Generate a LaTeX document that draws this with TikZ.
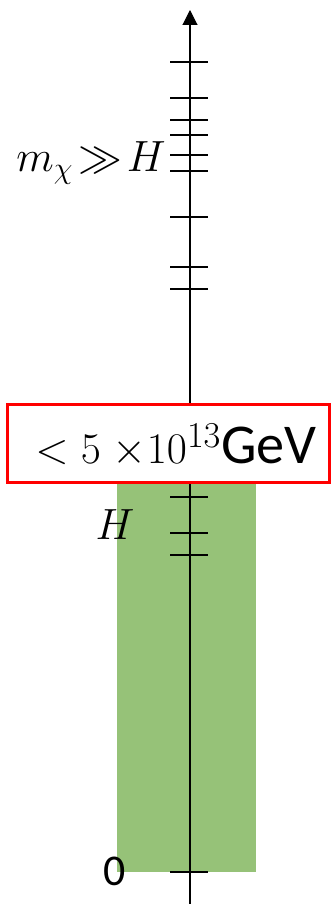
\documentclass[tikz,border=0pt]{standalone}
\usepackage{fontspec}
\setmainfont{Carlito}
\usetikzlibrary{arrows.meta,positioning}
\definecolor{bandgreen}{RGB}{150,194,120}

\begin{document}
\begin{tikzpicture}[x=0.02cm, y=0.02cm,
    tickmark/.style={line width=1.1pt},
    bigtext/.style={font=\fontsize{24}{30}\selectfont},
    boundbox/.style={draw=red, fill=white, line width=1.5pt, inner sep=0pt,
        minimum width=6.44cm, minimum height=1.56cm}]
    \useasboundingbox (0,0) rectangle (331,904);

    % allowed region
    \fill[bandgreen] (117,32) rectangle (256,421);

    % mass axis
    \coordinate (axisbot) at (190,0);
    \coordinate (axistop) at (190,894);
    \draw[line width=0.6pt, -{Triangle[length=0.3cm, width=0.3cm]}] (axisbot) -- (axistop);

    % tick marks
    \foreach \y in {842,806,784,769,749,733,687,637,615,407,371,349,32}
        \draw[tickmark] (170,\y) -- (208,\y);

    % labels
    \node[bigtext, anchor=base east, inner sep=0pt] (heavy) at (166,732) {$m_\chi\! \gg\! H$};
    \node[bigtext, inner sep=0pt] (hubble) at (115,379) {$H$};
    \node[bigtext, font=\fontsize{25}{30}\selectfont, inner sep=0pt] (zero) at (115,33) {0};

    % bound on H
    \node[boundbox] (bound) at (168.5,460.5) {};
    \node[font=\fontsize{32}{36}\selectfont, inner sep=0pt] (boundtext) at (176,458) {$<5\;{\times}10^{13}$GeV};
\end{tikzpicture}
\end{document}
